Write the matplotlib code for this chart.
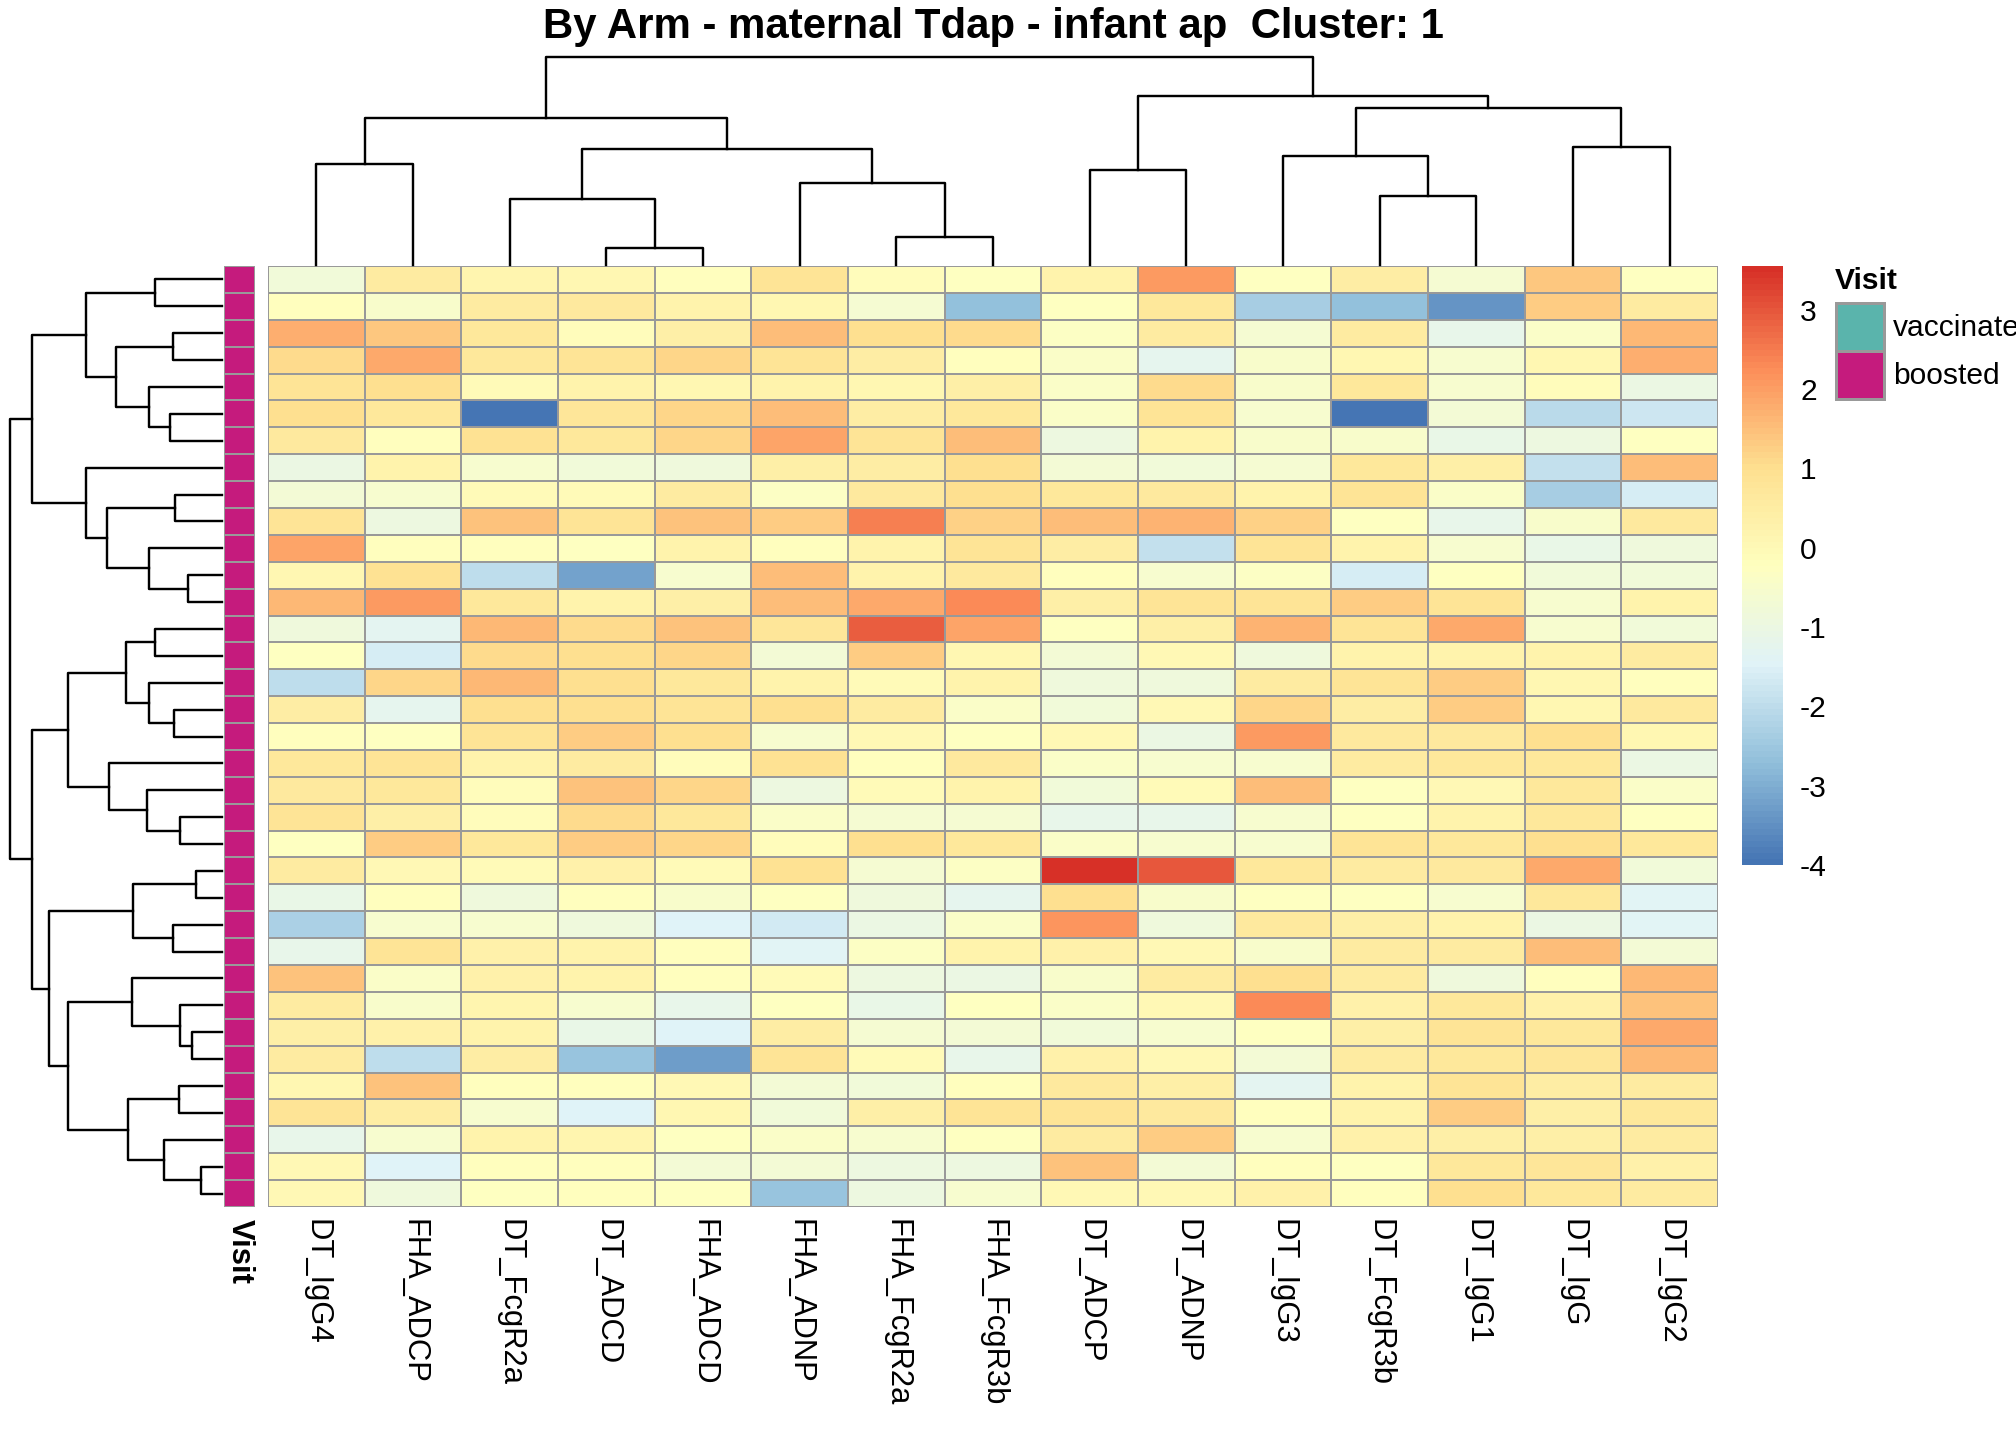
import numpy as np
import matplotlib
matplotlib.use("Agg")
import matplotlib.pyplot as plt
from matplotlib.colors import LinearSegmentedColormap, Normalize
from matplotlib.patches import Rectangle

plt.rcParams['font.family'] = ['Liberation Sans', 'DejaVu Sans']
plt.rcParams['axes.unicode_minus'] = False

title = "By Arm - maternal Tdap - infant ap  Cluster: 1"

columns = ["DT_IgG4", "FHA_ADCP", "DT_FcgR2a", "DT_ADCD", "FHA_ADCD", "FHA_ADNP",
           "FHA_FcgR2a", "FHA_FcgR3b", "DT_ADCP", "DT_ADNP", "DT_IgG3", "DT_FcgR3b",
           "DT_IgG1", "DT_IgG", "DT_IgG2"]

# z-scored values, rows in dendrogram order (all samples are "boosted")
values = [
    [-0.8, 0.6, 0.2, 0.1, -0.2, 0.85, -0.1, -0.25, 0.25, 2.1, -0.25, 0.5, -0.65, 1.4, -0.25],
    [-0.2, -0.5, 0.6, 0.65, 0.3, 0.1, -0.65, -2.7, -0.25, 0.7, -2.4, -2.7, -3.45, 1.35, 0.55],
    [1.8, 1.4, 0.7, -0.1, 0.45, 1.55, 1.0, 1.1, -0.35, 0.6, -0.65, 0.55, -1.15, -0.45, 1.65],
    [1.1, 1.85, 0.7, 0.85, 1.2, 0.85, 0.5, -0.15, -0.45, -1.25, -0.5, 0.1, -0.6, 0.1, 1.8],
    [0.85, 1.05, 0.0, 0.25, 0.1, 0.25, 0.1, 0.45, -0.45, 1.1, -0.5, 0.7, -0.6, -0.1, -1.05],
    [1.0, 0.7, -4.0, 0.8, 1.2, 1.55, 0.5, 0.7, -0.45, 0.9, -0.6, -4.0, -0.75, -2.1, -1.8],
    [0.65, -0.2, 0.95, 0.75, 1.2, 1.95, 0.9, 1.55, -0.95, 0.25, -0.5, -0.5, -1.1, -0.95, -0.25],
    [-1.0, 0.3, -0.55, -0.8, -0.9, 0.45, 0.5, 1.05, -0.75, -0.8, -0.65, 0.7, 0.45, -1.9, 1.55],
    [-0.75, -0.55, 0.0, 0.0, 0.6, -0.35, 0.65, 1.0, 0.7, 0.65, 0.25, 0.85, -0.4, -2.35, -1.6],
    [0.85, -0.95, 1.5, 0.85, 1.5, 1.3, 2.45, 1.25, 1.55, 1.7, 1.25, -0.25, -1.15, -0.5, 0.65],
    [1.95, -0.2, -0.2, -0.25, 0.3, -0.2, 0.3, 0.9, 0.5, -1.9, 0.9, 0.25, -0.55, -1.1, -0.85],
    [0.1, 0.95, -2.0, -3.2, -0.6, 1.55, 0.25, 0.65, -0.15, -0.6, -0.35, -1.6, -0.3, -0.8, -0.8],
    [1.65, 2.05, 0.7, 0.3, 0.4, 1.55, 1.85, 2.3, 0.45, 0.85, 0.9, 1.3, 0.9, -0.6, 0.3],
    [-0.9, -1.3, 1.6, 1.1, 1.45, 0.8, 2.9, 1.95, -0.25, 0.45, 1.7, 0.9, 1.85, -0.6, -0.8],
    [-0.25, -1.6, 1.1, 1.05, 1.2, -0.75, 1.3, 0.1, -0.75, 0.05, -0.85, 0.3, 0.3, 0.25, 0.55],
    [-2.0, 1.2, 1.65, 1.05, 0.7, 0.3, 0.0, 0.25, -0.9, -0.9, 0.6, 0.85, 1.35, 0.1, -0.2],
    [0.5, -1.25, 1.05, 1.05, 0.9, 1.0, 0.6, -0.4, -0.8, 0.05, 1.15, 0.5, 1.35, 0.1, 0.65],
    [-0.2, -0.3, 0.85, 1.3, 1.05, -0.6, 0.05, -0.25, 0.05, -1.0, 2.05, 0.65, 0.65, 1.0, 0.15],
    [0.7, 0.9, 0.25, 0.55, -0.1, 0.95, -0.15, 0.65, -0.45, -0.55, -0.6, 0.6, 0.75, 0.75, -1.0],
    [0.65, 0.7, -0.1, 1.45, 1.15, -0.95, -0.05, 0.3, -0.8, 0.0, 1.55, -0.25, 0.05, 0.75, -0.45],
    [0.9, 0.45, -0.1, 1.1, 0.75, -0.4, -0.65, -0.65, -1.15, -1.15, -0.55, -0.25, 0.3, 0.7, -0.25],
    [-0.25, 1.35, 0.75, 1.35, 1.15, -0.1, 1.0, 0.7, -0.4, -0.55, -0.6, 0.9, 0.7, 1.05, 0.75],
    [0.6, 0.05, -0.05, 0.35, 0.0, 0.95, -0.65, -0.35, 3.55, 3.0, 0.75, 0.6, 0.65, 1.85, -0.8],
    [-1.1, -0.2, -0.85, -0.2, -0.5, -0.25, -0.9, -1.25, 1.0, -0.5, -0.25, -0.25, -0.6, 0.75, -1.4],
    [-2.3, -0.6, -0.6, -0.9, -1.5, -1.7, -1.0, -0.45, 2.15, -0.9, 0.65, 0.45, 0.3, -1.0, -1.4],
    [-1.2, 0.85, 0.35, 0.25, -0.15, -1.4, -0.35, 0.3, 0.35, 0.05, -0.5, 0.6, 0.55, 1.55, -0.7],
    [1.5, -0.45, 0.35, 0.3, -0.2, 0.0, -0.95, -1.0, -0.5, 0.6, 1.05, 0.6, -0.9, -0.2, 1.6],
    [0.6, -0.5, 0.2, -0.6, -1.15, -0.3, -1.1, -0.3, -0.45, 0.05, 2.3, 0.35, 0.75, 0.35, 1.5],
    [0.45, 0.35, 0.3, -1.1, -1.5, 0.5, -0.65, -0.7, -0.8, -0.6, -0.25, 0.4, 0.85, 0.7, 1.85],
    [0.6, -2.0, 0.5, -2.6, -3.3, 0.85, 0.0, -1.15, 0.35, 0.05, -0.75, 0.6, 0.75, 0.8, 1.65],
    [0.1, 1.5, -0.2, -0.15, 0.05, -0.75, -0.8, -0.2, 0.65, 0.4, -1.35, 0.3, 0.85, 0.5, 0.55],
    [0.9, 0.5, -0.6, -1.5, 0.15, -0.8, 0.45, 0.85, 0.85, 0.65, -0.15, 0.3, 1.3, 0.4, 0.7],
    [-1.15, -0.6, 0.25, 0.2, -0.3, -0.4, -0.55, -0.3, 0.6, 1.35, -0.55, 0.35, 0.4, 0.45, 0.55],
    [0.05, -1.5, -0.15, -0.2, -0.75, -0.75, -0.95, -0.95, 1.5, -0.75, -0.2, -0.25, 0.7, 0.8, 0.35],
    [0.05, -0.85, -0.3, -0.2, -0.3, -2.6, -0.95, -0.6, 0.05, 0.05, 0.35, -0.2, 1.0, 0.75, 0.55],
]

visit = ["boosted"] * len(values)
visit_levels = ["vaccinated", "boosted"]
visit_colors = {"vaccinated": "#5AB4AC", "boosted": "#C51B7D"}

# dendrogram merges: (child a, child b, height); new ids continue after leaves
col_merges = [
    (3, 4, 16.7), (6, 7, 27.7), (2, 15, 65.7), (5, 16, 81.7), (0, 1, 100.7),
    (17, 18, 115.7), (19, 20, 146.7), (11, 12, 69.3), (8, 9, 95.0), (10, 22, 109.3),
    (13, 14, 117.7), (24, 25, 156.7), (23, 26, 169.0), (21, 27, 208.0),
]
row_merges = [
    (0, 1, 66.7), (2, 3, 49.0), (5, 6, 52.3), (4, 37, 72.7), (36, 38, 105.7),
    (35, 39, 136.3), (8, 9, 47.3), (11, 12, 34.3), (10, 42, 72.7), (41, 43, 115.0),
    (7, 44, 135.6), (40, 45, 190.0), (13, 14, 67.3), (16, 17, 48.3), (15, 48, 72.7),
    (47, 49, 95.7), (20, 21, 42.3), (19, 51, 74.7), (18, 52, 113.0), (50, 53, 153.3),
    (22, 23, 26.3), (24, 25, 48.7), (55, 56, 89.0), (28, 29, 30.3), (27, 58, 42.3),
    (26, 59, 90.0), (30, 31, 43.3), (33, 34, 21.0), (32, 62, 58.0), (61, 63, 94.3),
    (60, 64, 154.0), (57, 65, 172.7), (54, 66, 189.3), (46, 67, 211.7),
]

data = np.array(values)
nrow, ncol = data.shape
vmin, vmax = -4.0, 3.55
cmap = LinearSegmentedColormap.from_list(
    "rdylbu", ["#4575B4", "#91BFDB", "#E0F3F8", "#FFFFBF", "#FEE090", "#FC8D59", "#D73027"], N=100)
norm = Normalize(vmin, vmax)
border = "#999999"

W, H = 2016, 1440
fig = plt.figure(figsize=(14, 10), dpi=144)


def box(x0, y0, x1, y1):
    return [x0 / W, 1 - y1 / H, (x1 - x0) / W, (y1 - y0) / H]


def draw_tree(ax, merges, n, side):
    pos = {i: i + 0.5 for i in range(n)}
    hgt = {i: 0.0 for i in range(n)}
    for k, (a, b, h) in enumerate(merges):
        xs = [pos[a], pos[a], pos[b], pos[b]]
        ys = [hgt[a], h, h, hgt[b]]
        if side == "top":
            ax.plot(xs, ys, color="black", lw=1.2, clip_on=False, solid_capstyle="projecting")
        else:
            ax.plot(ys, xs, color="black", lw=1.2, clip_on=False, solid_capstyle="projecting")
        pos[n + k] = (pos[a] + pos[b]) / 2
        hgt[n + k] = h
    return max(hgt.values())


# heatmap
ax = fig.add_axes(box(268, 266, 1718, 1207))
ax.pcolormesh(data, cmap=cmap, norm=norm, edgecolors=border, linewidth=1.0)
ax.set_xlim(0, ncol)
ax.set_ylim(nrow, 0)
ax.axis("off")
for j, name in enumerate(columns):
    ax.text(j + 0.5, nrow + 0.45, name, rotation=-90, ha="left", va="center",
            fontsize=15.5, rotation_mode="anchor")

# column dendrogram
axt = fig.add_axes(box(268, 57, 1718, 265))
top = draw_tree(axt, col_merges, ncol, "top")
axt.set_xlim(0, ncol)
axt.set_ylim(0, top)
axt.axis("off")

# row dendrogram
axl = fig.add_axes(box(10, 266, 222, 1207))
top = draw_tree(axl, row_merges, nrow, "left")
axl.set_xlim(top, 0)
axl.set_ylim(nrow, 0)
axl.axis("off")

# annotation column
axa = fig.add_axes(box(224, 266, 255, 1207))
for i, v in enumerate(visit):
    axa.add_patch(Rectangle((0, i), 1, 1, facecolor=visit_colors[v], edgecolor=border, lw=1.0))
axa.set_xlim(0, 1)
axa.set_ylim(nrow, 0)
axa.axis("off")
axa.text(0.5, nrow + 0.45, "Visit", rotation=-90, ha="left", va="center", fontsize=15.5,
         fontweight="bold", rotation_mode="anchor")

# colour legend
axc = fig.add_axes(box(1742, 266, 1782, 865))
grad = np.linspace(vmin, vmax, 100).reshape(-1, 1)
axc.imshow(grad, cmap=cmap, norm=norm, aspect="auto", origin="lower",
           extent=[0, 1, vmin, vmax])
axc.set_xticks([])
axc.set_yticks(range(-4, 4))
axc.yaxis.tick_right()
axc.tick_params(axis="y", length=0, pad=9, labelsize=15)
for s in axc.spines.values():
    s.set_visible(False)

# annotation legend
fig.text(1835 / W, 1 - 281 / H, "Visit", fontsize=15, fontweight="bold", va="center", ha="left")
for k, lev in enumerate(visit_levels):
    y0 = 303 + k * 48
    fig.patches.append(Rectangle((1836 / W, 1 - (y0 + 48) / H), 48 / W, 48 / H,
                                 facecolor=visit_colors[lev], edgecolor=border, lw=1.5,
                                 transform=fig.transFigure))
    fig.text(1893 / W, 1 - (y0 + 25) / H, lev, fontsize=15, va="center", ha="left")

fig.text(993 / W, 1 - 27 / H, title, fontsize=21, fontweight="bold", ha="center", va="center")

fig.savefig("out.png", dpi=144)
